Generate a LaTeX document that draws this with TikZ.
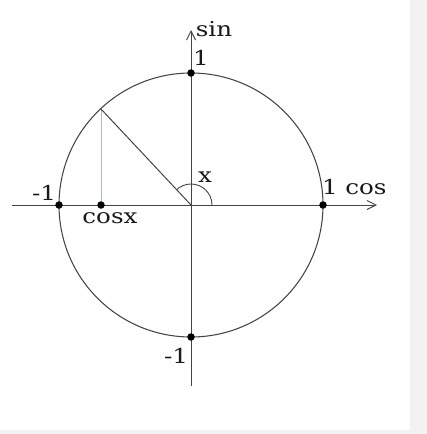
\documentclass[tikz,border=0pt]{standalone}
\usepackage{fontspec}
\setmainfont{DejaVu Serif}[FakeStretch=1.2]
\usetikzlibrary{arrows.meta}
\definecolor{ln}{HTML}{444444}
\definecolor{bgg}{HTML}{F2F2F2}
\definecolor{leg}{HTML}{A8C0B0}
\begin{document}
\begin{tikzpicture}[x=1pt,y=-1pt,
  lbl/.style={inner sep=0pt,anchor=base,font=\fontsize{20.5}{20.5}\selectfont,text=black!90},
  pt/.style={circle,fill=black,inner sep=0pt,minimum size=7.5pt},
  axis/.style={draw=ln,line width=1pt,-{Straight Barb[length=9pt,width=9pt,line width=1pt]}}]
\useasboundingbox (0,0) rectangle (427,434);
\fill[white] (0,0) rectangle (427,434);
\fill[bgg] (410,0) rectangle (427,434);
\fill[bgg] (0,430) rectangle (427,434);
\coordinate (O) at (191,205);
\coordinate (xl) at (12,205);
\coordinate (xr) at (377,205);
\coordinate (yb) at (191,386);
\coordinate (yt) at (191,30);
\draw[ln,line width=1.05pt] (O) circle[radius=132];
\draw[axis] (xl) -- (xr);
\draw[axis] (yb) -- (yt);
\coordinate (P) at (101,109);
\coordinate (Q) at (101,205);
\draw[leg,line width=1pt] (P) -- (Q);
\draw[ln,line width=1pt] (P) -- (O);
\draw[ln,line width=0.9pt] ([xshift=21pt]O) arc[start angle=0,end angle=-133,radius=21];
\node[pt] (pl) at (59,205) {};
\node[pt] (pr) at (323,205) {};
\node[pt] (pt1) at (191,73) {};
\node[pt] (pb) at (191,337) {};
\node[pt] (pc) at (101,205) {};
\node[lbl] (sin) at (214,36) {sin};
\node[lbl] (one) at (201,65) {1};
\node[lbl] (mone) at (44,200) {-1};
\node[lbl] (cosx) at (110,223) {cosx};
\node[lbl] (oner) at (330,194) {1};
\node[lbl] (cos) at (366,194) {cos};
\node[lbl] (monb) at (176,363) {-1};
\node[lbl] (x) at (205,182) {x};
\end{tikzpicture}
\end{document}
